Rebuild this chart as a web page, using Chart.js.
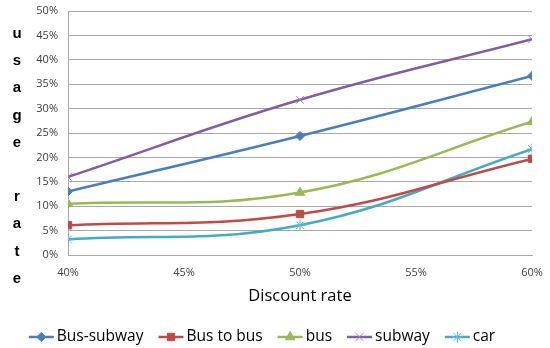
<!DOCTYPE html>
<html>
<head>
<meta charset="utf-8">
<script src="https://cdn.jsdelivr.net/npm/chart.js@4"></script>
<style>
    body { margin: 0; background: #fff; }
    #wrap { position: relative; width: 550px; height: 348px; }
    #yTitle {
        position: absolute; left: 7px; top: 19px; width: 20px;
        text-align: center; color: #000;
        font: bold 15px "Liberation Sans", Arial, sans-serif;
        line-height: 27.2px;
    }
</style>
</head>
<body>
<div id="wrap">
    <canvas id="chart" width="550" height="348"></canvas>
    <div id="yTitle">u<br>s<br>a<br>g<br>e<br>&nbsp;<br>r<br>a<br>t<br>e</div>
</div>
<script>
// Discount rate (%) on x, usage rate (%) on y
const discountRates = [40, 50, 60];
const busSubway = [13.0, 24.4, 36.7];
const busToBus = [6.1, 8.4, 19.7];
const bus = [10.5, 12.8, 27.3];
const subway = [16.0, 31.8, 44.2];
const car = [3.2, 6.1, 21.7];
const seriesNames = ['Bus-subway', 'Bus to bus', 'bus', 'subway', 'car'];

const FONT = '"Open Sans", sans-serif';

function toPoints(values) {
    return values.map((v, i) => ({ x: discountRates[i], y: v }));
}

function makeSet(label, values, color, style, radius, markerColor, markerWidth) {
    return {
        label: label,
        data: toPoints(values),
        borderColor: color,
        backgroundColor: color,
        borderWidth: 2.5,
        tension: 0.4,
        pointStyle: style,
        pointRadius: radius,
        pointHoverRadius: radius,
        pointBackgroundColor: markerColor || color,
        pointBorderColor: markerColor || color,
        pointBorderWidth: markerWidth || 1,
        fill: false
    };
}

const datasets = [
    makeSet(seriesNames[0], busSubway, '#4A7EBB', 'rectRot', 4.5),
    makeSet(seriesNames[1], busToBus, '#BE4B48', 'rect', 5.2),
    makeSet(seriesNames[2], bus, '#98B954', 'triangle', 5.5),
    makeSet(seriesNames[3], subway, '#7D60A0', 'crossRot', 5.5, '#9A86BE', 1),
    makeSet(seriesNames[4], car, '#46AAC5', 'star', 5.5, '#5BBBD6', 1)
];

// Excel-style legend: line segment with marker, then label
const bottomLegend = {
    id: 'bottomLegend',
    afterDraw(chart) {
        const ctx = chart.ctx;
        ctx.save();
        ctx.font = '15.5px ' + FONT;
        ctx.textBaseline = 'middle';
        const lineLen = 25, textGap = 3, itemGap = 15;
        const items = chart.data.datasets.map(ds => ({
            ds: ds,
            w: lineLen + textGap + ctx.measureText(ds.label).width
        }));
        const total = items.reduce((s, it) => s + it.w, 0) + itemGap * (items.length - 1);
        let x = 262 - total / 2;
        const y = 337;
        items.forEach(({ ds, w }) => {
            ctx.strokeStyle = ds.borderColor;
            ctx.lineWidth = ds.borderWidth;
            ctx.beginPath();
            ctx.moveTo(x, y);
            ctx.lineTo(x + lineLen, y);
            ctx.stroke();
            ctx.fillStyle = ds.pointBackgroundColor;
            ctx.strokeStyle = ds.pointBorderColor;
            ctx.lineWidth = ds.pointBorderWidth;
            Chart.helpers.drawPoint(ctx, {
                pointStyle: ds.pointStyle,
                radius: ds.pointRadius,
                borderWidth: ds.pointBorderWidth
            }, x + lineLen / 2, y);
            ctx.fillStyle = '#000';
            ctx.textAlign = 'left';
            ctx.fillText(ds.label, x + lineLen + textGap, y);
            x += w + itemGap;
        });
        ctx.restore();
    }
};

new Chart(document.getElementById('chart').getContext('2d'), {
    type: 'line',
    data: { datasets: datasets },
    plugins: [bottomLegend],
    options: {
        responsive: false,
        animation: false,
        layout: { padding: { left: 0, right: 18, top: 11, bottom: 38 } },
        plugins: {
            legend: { display: false },
            tooltip: { enabled: false }
        },
        scales: {
            x: {
                type: 'linear',
                min: 40,
                max: 60,
                afterFit: scale => {
                    scale.height = 55;
                    scale.paddingLeft = 0;
                    scale.paddingRight = 0;
                },
                ticks: {
                    stepSize: 5,
                    padding: 11,
                    color: '#404040',
                    font: { family: FONT, size: 11 },
                    callback: v => v + '%'
                },
                grid: { display: false, drawTicks: false },
                border: { display: true, color: '#A8A8A8' },
                title: {
                    display: true,
                    text: 'Discount rate',
                    color: '#000',
                    font: { family: FONT, size: 16.5 },
                    padding: { top: 4, bottom: 4 }
                }
            },
            y: {
                min: 0,
                max: 50,
                afterFit: scale => {
                    scale.width = 68;
                    scale.paddingTop = 0;
                    scale.paddingBottom = 0;
                },
                ticks: {
                    stepSize: 5,
                    padding: 10,
                    color: '#404040',
                    font: { family: FONT, size: 11 },
                    callback: v => v + '%'
                },
                grid: { color: '#A8A8A8', lineWidth: 1, drawTicks: false },
                border: { display: true, color: '#A8A8A8' }
            }
        }
    }
});
</script>
</body>
</html>
